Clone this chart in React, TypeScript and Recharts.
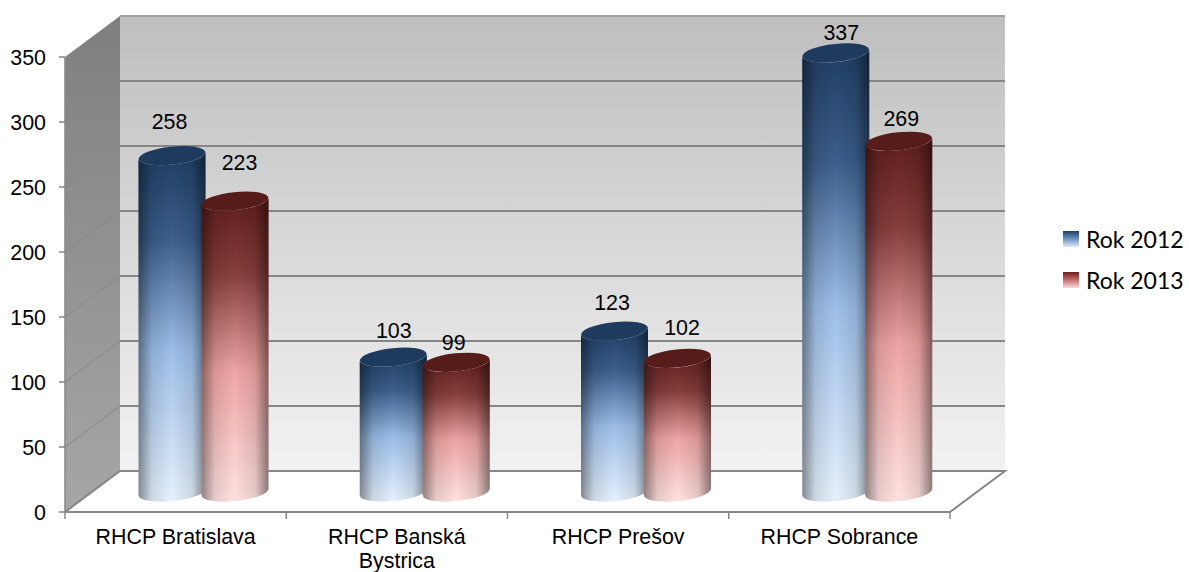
import { Bar, BarChart, CartesianGrid, LabelList, Legend, XAxis, YAxis } from 'recharts';

const categories = ['RHCP Bratislava', 'RHCP Banská Bystrica', 'RHCP Prešov', 'RHCP Sobrance'];
const rok2012 = [258, 103, 123, 337];
const rok2013 = [223, 99, 102, 269];
const yTicks = [0, 50, 100, 150, 200, 250, 300, 350];

const data = categories.map((name, i) => ({ name, rok2012: rok2012[i], rok2013: rok2013[i] }));

// the fake 3D box: how far the back wall sits from the front plane
const DEPTH_X = 55;
const DEPTH_Y = 41;
const LEFT = 65;
const RIGHT = 950;
const TOP = 57;
const BOTTOM = 512;
const GRID = '#868686';
const FONT = 21.4;

// hand placed labels in the original, relative to the default spot above the cylinder
const nudge2012 = [[-3, -6], [0, 2], [-3, 0], [5, 8]];
const nudge2013 = [[4, -10], [-3, 9], [4, -2], [2, 6]];

const RX = 33.5;
const RY = 9;
const TILT = -6;
const TILT_DY = RX * Math.sin((TILT * Math.PI) / 180);

function Cylinder(props: any) {
  const { x, y, width, height, top, id } = props;
  if (height == null) return null;
  const lx = x + DEPTH_X / 2 + width / 2 - RX;
  const rx = lx + RX * 2;
  const cx = (lx + rx) / 2;
  const yTop = y - 21;
  const yBot = y + height - 20;
  const body = `M${lx} ${yTop - TILT_DY}L${lx} ${yBot - TILT_DY}A${RX} ${RY} ${TILT} 0 0 ${rx} ${yBot + TILT_DY}L${rx} ${yTop + TILT_DY}A${RX} ${RY} ${TILT} 0 1 ${lx} ${yTop - TILT_DY}Z`;
  return (
    <g>
      <path d={body} fill={`url(#${id})`} />
      <path d={body} fill="url(#shade)" />
      <ellipse cx={cx} cy={yTop} rx={RX} ry={RY} transform={`rotate(${TILT} ${cx} ${yTop})`} fill={top} />
    </g>
  );
}

function GridLine(props: any) {
  const { x1, x2, y1 } = props;
  if (Math.abs(y1 - BOTTOM) < 1) {
    return (
      <path d={`M${x1} ${y1}L${x1 + DEPTH_X} ${y1 - DEPTH_Y}L${x2 + DEPTH_X} ${y1 - DEPTH_Y}L${x2} ${y1}`} fill="#fff" stroke={GRID} strokeWidth={2} />
    );
  }
  const onTop = Math.abs(y1 - TOP) < 1;
  return (
    <g>
      {!onTop && <line x1={x1} y1={y1} x2={x1 + DEPTH_X} y2={y1 - DEPTH_Y} stroke="#868686" strokeOpacity={0.55} strokeWidth={1.5} />}
      <line x1={x1 + DEPTH_X} y1={y1 - DEPTH_Y} x2={x2 + DEPTH_X} y2={y1 - DEPTH_Y} stroke={onTop ? '#a0a0a0' : GRID} strokeWidth={2} />
    </g>
  );
}

function CategoryTick(props: any) {
  const { x, y, payload, index } = props;
  const step = (RIGHT - LEFT) / categories.length;
  const words = String(payload.value).split(' ');
  const lines = words.length > 2 ? [words.slice(0, 2).join(' '), words.slice(2).join(' ')] : [payload.value];
  return (
    <g>
      <line x1={x - step / 2} x2={x - step / 2} y1={y - 8} y2={y - 1} stroke={GRID} strokeWidth={1.5} />
      {index === categories.length - 1 && <line x1={x + step / 2} x2={x + step / 2} y1={y - 8} y2={y - 1} stroke={GRID} strokeWidth={1.5} />}
      <text x={x} y={y + 23.5} textAnchor="middle" fontFamily="Liberation Sans" fontSize={FONT} fill="#000">
        {lines.map((l: string, i: number) => (
          <tspan key={i} x={x} dy={i === 0 ? 0 : 24}>{l}</tspan>
        ))}
      </text>
    </g>
  );
}

function valueLabel(nudges: number[][]) {
  return (props: any) => {
    const { x, y, width, value, index } = props;
    const [dx, dy] = nudges[index];
    return (
      <text x={x + width / 2 + 28 + dx} y={y - 42 + dy} textAnchor="middle" fontFamily="Liberation Sans" fontSize={FONT} fill="#000">
        {value}
      </text>
    );
  };
}

function LegendBox() {
  const items = [
    { label: 'Rok 2012', id: 'blue' },
    { label: 'Rok 2013', id: 'red' },
  ];
  return (
    <div style={{ fontFamily: 'Lato', fontSize: 23, color: '#000' }}>
      {items.map((it) => (
        <div key={it.id} style={{ display: 'flex', alignItems: 'center', height: 41 }}>
          <svg width={16} height={16} style={{ marginRight: 7 }}>
            <rect width={16} height={16} fill={`url(#${it.id}Legend)`} />
          </svg>
          {it.label}
        </div>
      ))}
    </div>
  );
}

export default function App() {
  return (
    <div style={{ position: 'absolute', left: 0, top: 0, width: 1189, height: 572 }}>
      {/* walls sit in their own svg, the chart grid would end up under them otherwise */}
      <svg width={1189} height={572} style={{ position: 'absolute', left: 0, top: 0 }}>
        <defs>
          <linearGradient id="wall" x1="0" y1="0" x2="0" y2="1">
            <stop offset="0" stopColor="#bfbfbf" />
            <stop offset="1" stopColor="#f2f2f2" />
          </linearGradient>
          <linearGradient id="side" x1="0" y1="0" x2="0" y2="1">
            <stop offset="0" stopColor="#7f7f7f" />
            <stop offset="1" stopColor="#a6a6a6" />
          </linearGradient>
        </defs>
        <polygon points={`${LEFT + DEPTH_X},${TOP - DEPTH_Y} ${RIGHT + DEPTH_X},${TOP - DEPTH_Y} ${RIGHT + DEPTH_X},${BOTTOM - DEPTH_Y} ${LEFT + DEPTH_X},${BOTTOM - DEPTH_Y}`} fill="url(#wall)" />
        <polygon points={`${LEFT},${TOP} ${LEFT + DEPTH_X},${TOP - DEPTH_Y} ${LEFT + DEPTH_X},${BOTTOM - DEPTH_Y} ${LEFT},${BOTTOM}`} fill="url(#side)" />
      </svg>
      <div style={{ position: 'absolute', left: 0, top: 0 }}>
        <BarChart
          width={1189}
          height={572}
          data={data}
          margin={{ top: TOP, right: 1189 - RIGHT, bottom: 0, left: 0 }}
          barSize={67}
          barGap={-4}
        >
          <defs>
            <linearGradient id="blue" x1="0" y1="0" x2="0" y2="1">
              <stop offset="0" stopColor="#1f3d63" />
              <stop offset="0.25" stopColor="#3c5f8c" />
              <stop offset="0.57" stopColor="#9dbfe9" />
              <stop offset="1" stopColor="#e6f1fd" />
            </linearGradient>
            <linearGradient id="red" x1="0" y1="0" x2="0" y2="1">
              <stop offset="0" stopColor="#5e1d1b" />
              <stop offset="0.25" stopColor="#873f3c" />
              <stop offset="0.57" stopColor="#eea5a4" />
              <stop offset="1" stopColor="#ffe2e1" />
            </linearGradient>
            <linearGradient id="blueLegend" x1="0" y1="0" x2="0" y2="1">
              <stop offset="0" stopColor="#1f3f66" />
              <stop offset="0.5" stopColor="#6f94c4" />
              <stop offset="1" stopColor="#dfeafa" />
            </linearGradient>
            <linearGradient id="redLegend" x1="0" y1="0" x2="0" y2="1">
              <stop offset="0" stopColor="#6b1f1d" />
              <stop offset="0.5" stopColor="#c56f6d" />
              <stop offset="1" stopColor="#fbdcdc" />
            </linearGradient>
            <linearGradient id="shade" x1="0" y1="0" x2="1" y2="0">
              <stop offset="0" stopColor="#000" stopOpacity={0.42} />
              <stop offset="0.2" stopColor="#000" stopOpacity={0.1} />
              <stop offset="0.5" stopColor="#000" stopOpacity={0} />
              <stop offset="0.8" stopColor="#000" stopOpacity={0.1} />
              <stop offset="1" stopColor="#000" stopOpacity={0.45} />
            </linearGradient>
          </defs>
          <CartesianGrid vertical={false} horizontal={GridLine as any} />
          <XAxis
            dataKey="name"
            height={60}
            interval={0}
            axisLine={{ stroke: GRID, strokeWidth: 2 }}
            tickLine={false}
            tick={CategoryTick as any}
          />
          <YAxis
            width={LEFT}
            domain={[0, 350]}
            ticks={yTicks}
            interval={0}
            axisLine={{ stroke: GRID, strokeWidth: 1.5 }}
            tickLine={{ stroke: GRID, strokeWidth: 1.5 }}
            tickSize={6}
            tickMargin={13}
            tick={{ fontFamily: 'Liberation Sans', fontSize: FONT, fill: '#000' }}
          />
          <Legend
            layout="vertical"
            align="center"
            verticalAlign="middle"
            wrapperStyle={{ left: 1063, top: 218, width: 126 }}
            content={LegendBox}
          />
          <Bar dataKey="rok2012" isAnimationActive={false} shape={(p: any) => <Cylinder {...p} id="blue" top="#1e3b5e" />}>
            <LabelList dataKey="rok2012" content={valueLabel(nudge2012) as any} />
          </Bar>
          <Bar dataKey="rok2013" isAnimationActive={false} shape={(p: any) => <Cylinder {...p} id="red" top="#561c1a" />}>
            <LabelList dataKey="rok2013" content={valueLabel(nudge2013) as any} />
          </Bar>
        </BarChart>
      </div>
    </div>
  );
}
